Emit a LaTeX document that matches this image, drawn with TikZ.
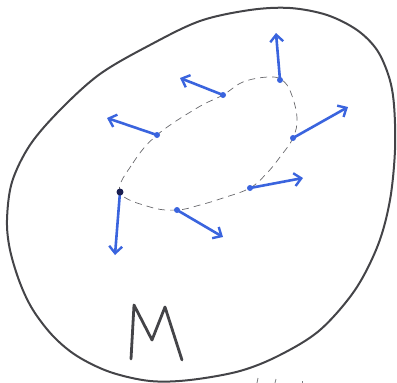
\documentclass[tikz,border=0pt]{standalone}
\usetikzlibrary{arrows.meta}
\definecolor{pen}{RGB}{68,68,72}
\definecolor{vblue}{RGB}{58,100,222}
\definecolor{navy}{RGB}{25,30,80}
\tikzset{
  outer/.style={draw=pen, line width=2pt, line join=round},
  loopline/.style={draw=pen!80, line width=0.7pt, dash pattern=on 7pt off 5pt},
  vec/.style={draw=vblue, line width=2.6pt, line cap=round,
    -{Straight Barb[length=7pt,width=13pt,line width=2.4pt]}},
  vdot/.style={circle, fill=vblue, inner sep=0pt, minimum size=6pt},
  mletter/.style={draw=pen, line width=2.8pt, line cap=round, line join=round},
  tick/.style={draw=pen!70, line width=0.8pt}
}
\begin{document}
\begin{tikzpicture}[x=1pt,y=-1pt]
\useasboundingbox (0,0) rectangle (397,383);
% outer region
\draw[outer] plot[smooth cycle, tension=0.55] coordinates {
 (290,8) (327,15) (357,30) (377,50) (389,77) (394,105) (395,150) (390,200)
 (378,245) (355,290) (320,330) (280,355) (240,371) (190,380) (150,381)
 (110,372) (77,356) (53,336) (33,310) (20,283) (10,250) (7,220) (12,182)
 (30,145) (60,110) (100,74) (150,45) (200,21) (250,10)};
% dashed loop
\draw[loopline] plot[smooth cycle, tension=0.65] coordinates {
 (120,192) (133,163) (157,135) (197,108) (223,95) (243,82) (268,77) (282,80)
 (291,93) (297,118) (293,138) (280,157) (267,173) (250,188) (223,198)
 (200,205) (177,210) (150,207)};
% base points
\coordinate (p1) at (120,192);
\coordinate (p2) at (177,210);
\coordinate (p3) at (250,188);
\coordinate (p4) at (293,138);
\coordinate (p5) at (280,80);
\coordinate (p6) at (223,95);
\coordinate (p7) at (157,135);
% tips
\coordinate (t1) at (115,255);
\coordinate (t2) at (223,237);
\coordinate (t3) at (303,178);
\coordinate (t4) at (348,107);
\coordinate (t5) at (276,33);
\coordinate (t6) at (180,78);
\coordinate (t7) at (107,118);
\foreach \i in {1,...,7} {\draw[vec] (p\i) -- (t\i);}
\foreach \i in {2,...,7} {\node[vdot] (d\i) at (p\i) {};}
\node[circle, fill=navy, inner sep=0pt, minimum size=7pt] (d1) at (p1) {};
% letter M
\draw[mletter] (131,359) -- (134,305) -- (152,340) -- (165,307) -- (182,360);
% small marks at bottom
\draw[tick] (258,378) -- (257,383);
\draw[tick] (276,379) -- (275,383);
\draw[tick] (302,381) -- (302,383);
\end{tikzpicture}
\end{document}
